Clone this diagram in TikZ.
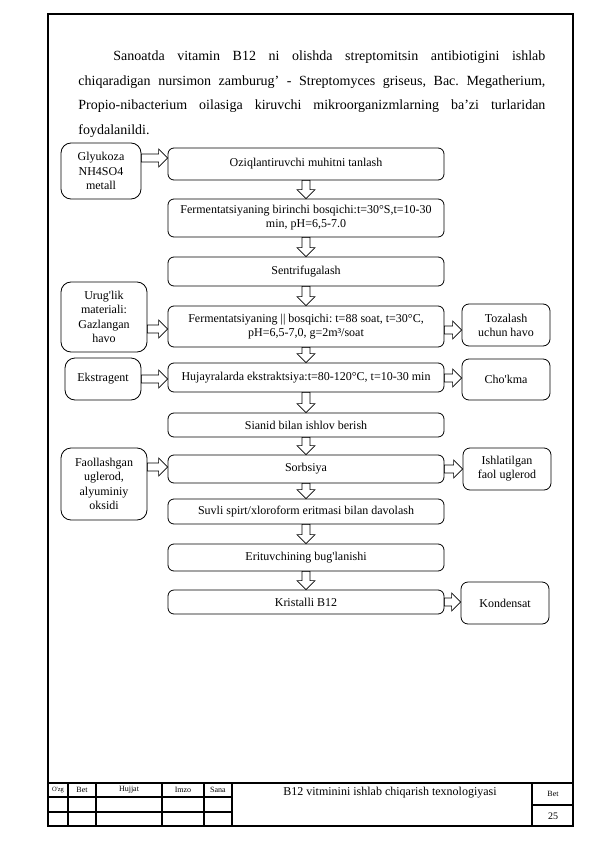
\documentclass[tikz,border=0pt]{standalone}
\usepackage{fontspec}
\setmainfont{Liberation Serif}
\usetikzlibrary{calc}
\frenchspacing
\begin{document}
\begin{tikzpicture}[x=1pt,y=-1pt,line width=0.8pt,
  stage/.style={draw,rounded corners=6pt,minimum width=276pt,inner sep=1pt,align=center,font=\fontsize{12}{14}\selectfont},
  feed/.style={draw,rounded corners=10pt,inner sep=1pt,align=center,font=\fontsize{12}{14.5}\selectfont},
  waste/.style={draw,rounded corners=7pt,minimum width=88pt,minimum height=42pt,inner sep=1pt,align=center,font=\fontsize{12}{14}\selectfont},
  hollow/.style={draw,line width=0.6pt,to path={
    let \p1=(\tikztostart),\p2=(\tikztotarget),
        \n1={atan2(\y2-\y1,\x2-\x1)},\n2={veclen(\x2-\x1,\y2-\y1)} in
    [shift={(\p1)},rotate=\n1]
    (0pt,-4pt) -- ({\n2*1pt-9pt},-4pt) -- ({\n2*1pt-9pt},-9pt) -- ({\n2*1pt},0pt)
    -- ({\n2*1pt-9pt},9pt) -- ({\n2*1pt-9pt},4pt) -- (0pt,4pt) -- cycle}},
  cell/.style={inner sep=0pt,font=\fontsize{8}{9}\selectfont}]
\useasboundingbox (0,0) rectangle (595,842);
% sheet frame
\draw[line width=1.5pt] (48,14) rectangle (573,826);
% text above the scheme
\node[anchor=north west,inner sep=0pt,text width=467pt,align=justify,
  font=\fontsize{14}{24.5}\selectfont] (intro) at (78,50.5)
  {\hspace*{35pt}Sanoatda vitamin B12 ni olishda streptomitsin antibiotigini ishlab\linebreak
   chiqaradigan nursimon zamburug’ - Streptomyces griseus, Bac. Megatherium,\linebreak
   Propio-nibacterium oilasiga kiruvchi mikroorganizmlarning ba’zi turlaridan\linebreak
   foydalanildi.};
% main stages
\foreach \yy/\hh/\txt [count=\i] in {
  164/32/{Oziqlantiruvchi muhitni tanlash},
  218/38/{Fermentatsiyaning birinchi bosqichi:t=30°S,t=10-30\\min, pH=6,5-7.0},
  271.5/29/{Sentrifugalash},
  326.5/41/{Fermentatsiyaning || bosqichi: t=88 soat, t=30°C,\\pH=6,5-7,0, g=2m³/soat},
  377.5/29/{Hujayralarda ekstraktsiya:t=80-120°C, t=10-30 min},
  425/24/{Sianid bilan ishlov berish},
  469/28/{Sorbsiya},
  511.5/25/{Suvli spirt/xloroform eritmasi bilan davolash},
  557.5/27/{Erituvchining bug\textquotesingle lanishi},
  602/24/{Kristalli B12}}{%
  \node[stage,minimum height=\hh pt] (S-\i) at (306,\yy) {\txt};
}
\foreach \i [count=\j from 2] in {1,...,9}{%
  \draw[hollow] (S-\i.south) to (S-\j.north);
}
% inputs
\node[feed,minimum width=80pt,minimum height=56pt] (L-1) at (101,171) {Glyukoza\\NH4SO4\\metall};
\node[feed,minimum width=86pt,minimum height=70pt] (L-2) at (104,317) {Urug\textquotesingle lik\\materiali:\\Gazlangan\\havo};
\node[feed,minimum width=76pt,minimum height=42pt] (L-3) at (103,379) {Ekstragent};
\node[feed,minimum width=86pt,minimum height=72pt] (L-4) at (104,484) {Faollashgan\\uglerod,\\alyuminiy\\oksidi};
% outputs
\node[waste] (R-1) at (506,325) {Tozalash\\uchun havo};
\node[waste,minimum height=41pt] (R-2) at (506,379.5) {Cho\textquotesingle kma};
\node[waste] (R-3) at (507,469) {Ishlatilgan\\faol uglerod};
\node[waste] (R-4) at (505,603) {Kondensat};
\draw[hollow] (L-1.east |- 0,158) to (S-1.west |- 0,158);
\draw[hollow] (L-2.east |- 0,329) to (S-4.west |- 0,329);
\draw[hollow] (L-3.east |- 0,379) to (S-5.west |- 0,379);
\draw[hollow] (L-4.east |- 0,467) to (S-7.west |- 0,467);
\draw[hollow] (S-4.east |- 0,330) to (R-1.west |- 0,330);
\draw[hollow] (S-5.east |- 0,378) to (R-2.west |- 0,378);
\draw[hollow] (S-7.east |- 0,469) to (R-3.west |- 0,469);
\draw[hollow] (S-10.east |- 0,602) to (R-4.west |- 0,602);
% title block
\draw[line width=1.2pt] (48,783) -- (573,783);
\foreach \xx in {68,96,162,204,232,532}{%
  \draw[line width=1.2pt] (\xx,783) -- (\xx,826);
}
\foreach \yy in {797,812}{%
  \draw[line width=1.2pt] (48,\yy) -- (232,\yy);
}
\draw[line width=1.2pt] (532,805) -- (573,805);
\node[cell,font=\fontsize{6.5}{7}\selectfont] (h-1) at (58,790) {O\textquotesingle zg};
\node[cell] (h-2) at (82,790) {Bet};
\node[cell] (h-3) at (129,790) {Hujjat};
\node[cell] (h-4) at (183,790) {Imzo};
\node[cell] (h-5) at (218,790) {Sana};
\node[cell,font=\fontsize{12}{14}\selectfont] (title) at (390,793) {B12 vitminini ishlab chiqarish texnologiyasi};
\node[cell] (h-6) at (553,794) {Bet};
\node[cell,font=\fontsize{10}{12}\selectfont] (page) at (553,816) {25};
\end{tikzpicture}
\end{document}
